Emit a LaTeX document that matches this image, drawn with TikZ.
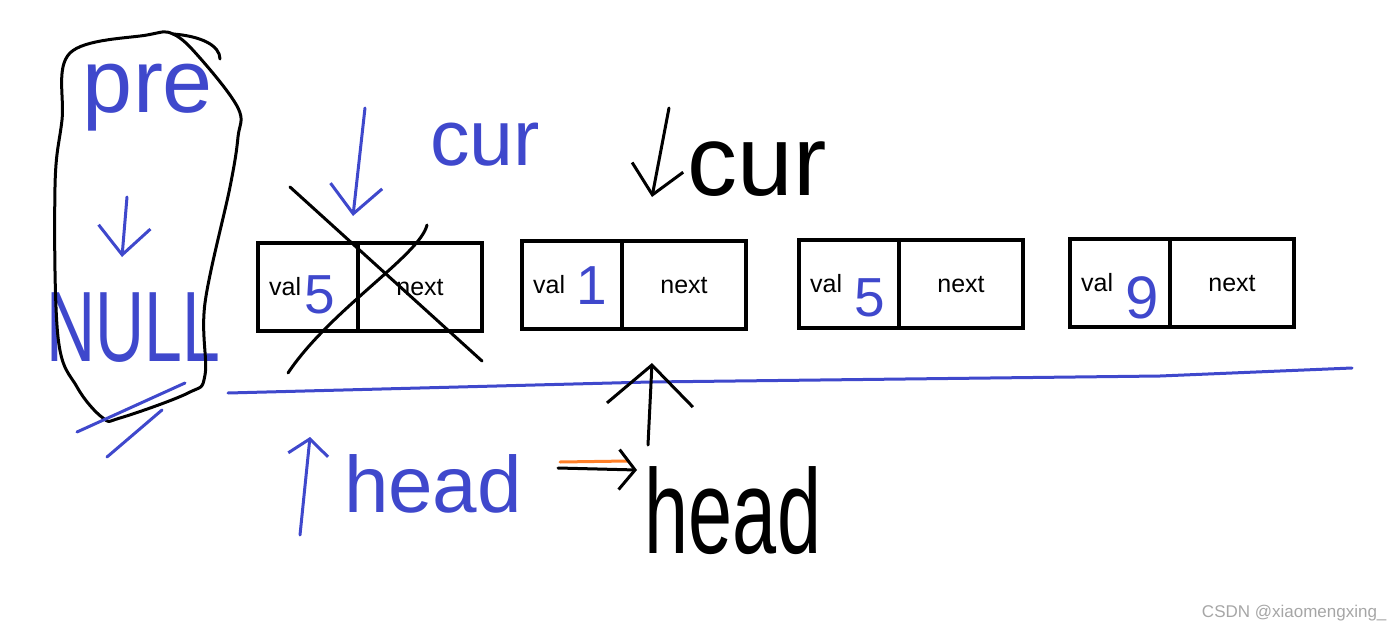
\documentclass[tikz,border=0pt]{standalone}
\usepackage{fontspec}
\setmainfont{Liberation Sans}
\usetikzlibrary{arrows.meta,positioning}
\definecolor{paintblue}{RGB}{63,72,204}
\definecolor{paintorange}{RGB}{255,127,39}

\begin{document}
\begin{tikzpicture}[x=1pt, y=-1pt,
    cell/.style={draw, line width=4pt, minimum height=88pt, inner sep=0pt, outer sep=0pt},
    valcell/.style={cell, minimum width=100pt},
    nextcell/.style={cell, minimum width=124pt},
    boxtext/.style={font=\fontsize{25}{25}\selectfont, inner sep=0pt, anchor=base},
    digit/.style={text=paintblue, font=\fontsize{55}{55}\selectfont, inner sep=0pt, anchor=base},
    hand/.style={inner sep=0pt, anchor=base},
    pen/.style={line width=3pt, line cap=round, line join=round},
    bigbarb/.style={-{Straight Barb[length=40pt, width=86pt]}},
    midbarb/.style={-{Straight Barb[length=28pt, width=52pt]}},
    smallbarb/.style={-{Straight Barb[length=16pt, width=40pt]}}]
    \useasboundingbox (0,0) rectangle (1400,629);

    % list nodes
    \node[valcell] (val1) at (308,287) {};
    \node[nextcell, right=0pt of val1] (next1) {};
    \node[valcell] (val2) at (572,285) {};
    \node[nextcell, right=0pt of val2] (next2) {};
    \node[valcell] (val3) at (849,284) {};
    \node[nextcell, right=0pt of val3] (next3) {};
    \node[valcell] (val4) at (1120,283) {};
    \node[nextcell, right=0pt of val4] (next4) {};

    % field names
    \foreach \i in {1,2,3,4} {
      \node[boxtext, anchor=base west] (valtext\i) at ([xshift=11pt, yshift=-8pt]val\i.west) {val};
      \node[boxtext] (nexttext\i) at ([yshift=-8pt]next\i.center) {next};
    }

    % values written in
    \node[digit] (num1) at (320,313) {5};
    \node[digit] (num2) at (592,304) {1};
    \node[digit] (num3) at (870,316) {5};
    \node[digit, font=\fontsize{60}{60}\selectfont] (num4) at (1142,318) {9};

    % first node crossed out
    \draw[pen] (290,187) -- (482,361);
    \draw[pen] (288,373) .. controls (330,310) and (420,255) .. (427,225);

    % pre -> NULL, circled
    \node[hand, text=paintblue, font=\fontsize{90}{90}\selectfont] (pre) at (148,112) {pre};
    \node[hand, text=paintblue, font=\fontsize{100}{100}\selectfont] (null) at (133,361) {\scalebox{0.68}[1]{NULL}};
    \coordinate (pretail) at (127,197);
    \coordinate (pretip) at (122,257);
    \draw[pen, paintblue, midbarb] (pretail) -- (pretip);
    \draw[pen] plot[smooth cycle, tension=0.6] coordinates {(70,53) (147,35) (173,34) (200,58)
      (238,108) (238,137) (230,187) (205,303) (205,375) (188,393) (120,418)
      (103,418) (77,387) (58,337) (55,187) (62,120)};
    \draw[pen] (173,34) .. controls (200,36) and (220,45) .. (220,59);
    \draw[pen, paintblue] (77,432) -- (185,383);
    \draw[pen, paintblue] (107,457) -- (162,410);

    % cur pointers
    \node[hand, text=paintblue, font=\fontsize{79}{79}\selectfont] (curold) at (485,165) {cur};
    \coordinate (curoldtail) at (365,108);
    \coordinate (curoldtip) at (353,216);
    \draw[pen, paintblue, midbarb] (curoldtail) -- (curoldtip);
    \node[hand, font=\fontsize{100}{100}\selectfont] (curnew) at (757,195) {cur};
    \coordinate (curnewtail) at (669,108);
    \coordinate (curnewtip) at (652,197);
    \draw[pen, midbarb] (curnewtail) -- (curnewtip);

    % dividing line
    \draw[pen, paintblue] (228,393) -- (650,382) -- (1160,376) -- (1352,368);

    % head moves on
    \coordinate (headoldtail) at (300,535);
    \coordinate (headoldtip) at (310,437);
    \draw[pen, paintblue, smallbarb] (headoldtail) -- (headoldtip);
    \node[hand, text=paintblue, font=\fontsize{80}{80}\selectfont] (headold) at (433,512) {head};
    \draw[pen, paintorange] (560,462) -- (628,461);
    \coordinate (movetail) at (558,468);
    \coordinate (movetip) at (637,470);
    \draw[pen, smallbarb] (movetail) -- (movetip);
    \node[hand, font=\fontsize{120}{120}\selectfont] (headnew) at (733,553) {\scalebox{0.66}[1]{head}};
    \coordinate (headnewtail) at (648,445);
    \coordinate (headnewtip) at (652,363);
    \draw[pen, bigbarb] (headnewtail) -- (headnewtip);

    % watermark
    \node[anchor=base east, text=gray!70, font=\fontsize{17}{17}\selectfont] (mark) at (1390,617) {CSDN @xiaomengxing\_};
\end{tikzpicture}
\end{document}
